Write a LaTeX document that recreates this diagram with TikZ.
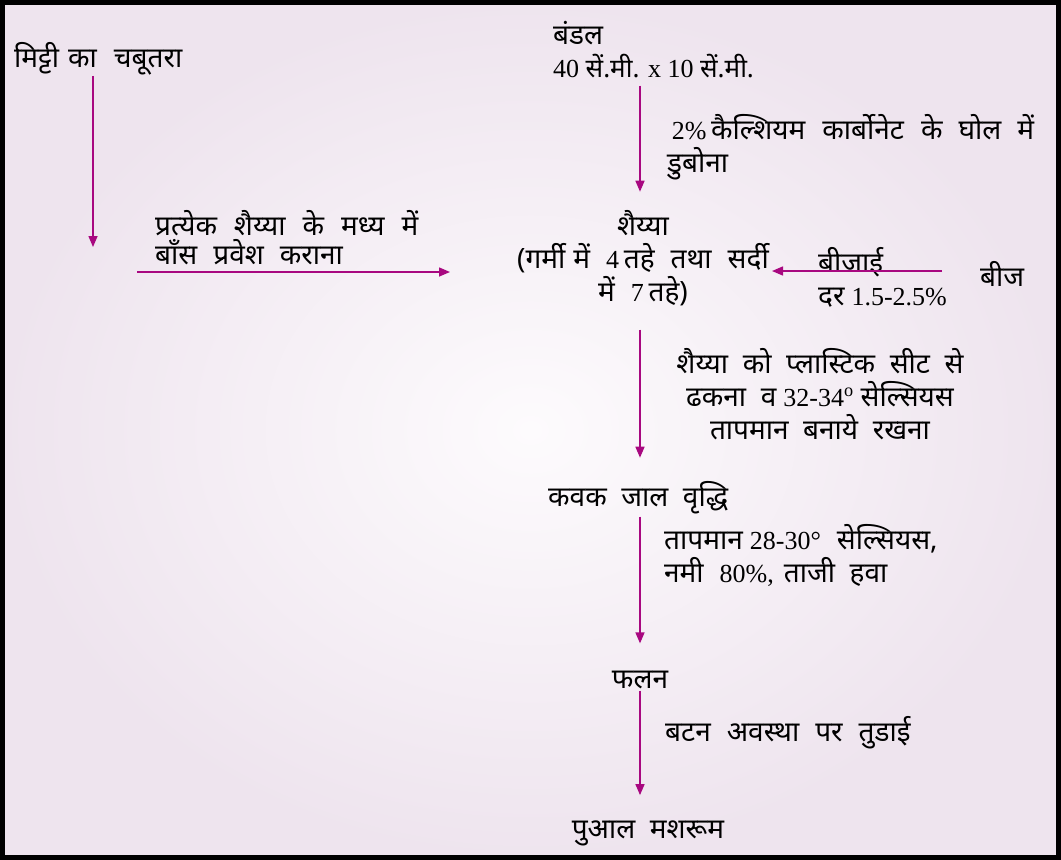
\documentclass[tikz,border=0pt]{standalone}
\usepackage{fontspec}
\setmainfont{Liberation Serif}
\newfontfamily\devfont[Script=Devanagari]{Noto Sans}
\usetikzlibrary{arrows.meta,calc}
\definecolor{arrc}{RGB}{168,8,128}
\definecolor{bgin}{RGB}{253,251,253}
\definecolor{bgout}{RGB}{238,228,238}
\newcommand{\D}[1]{{\devfont #1}}
\newcommand{\N}[1]{{\fontsize{26}{33}\selectfont #1}}
\newcommand{\gap}[1][14pt]{\hspace*{#1}}
\tikzset{
  arr/.style={draw=arrc, line width=1.5pt, -{Triangle[width=9pt,length=11pt]}},
  txt/.style={inner sep=0pt, font=\fontsize{28}{33}\selectfont, text=black},
}
\begin{document}
\begin{tikzpicture}[x=1pt,y=1pt]
\useasboundingbox (0,0) rectangle (1061,-860);
\shade[inner color=bgin, outer color=bgout] (0,0) rectangle (1061,-860);
\draw[line width=5pt] (2.5,-2.5) rectangle (1058.5,-857.5);

% nodes
\node[txt, anchor=base west] (mitti) at (14,-67) {\D{मिट्टी}\gap[9pt]\D{का}\gap[17pt]\D{चबूतरा}};
\node[txt, anchor=base west, align=left] (bundle) at (553,-77) {\D{बंडल}\\\N{40 \D{सें.मी.} x 10 \D{सें.मी.}}};
\node[txt, anchor=base west, align=left] (dip) at (667,-172) {\,\N{2\%}\,\D{कैल्शियम}\gap[17pt]\D{कार्बोनेट}\gap[17pt]\D{के}\gap[16pt]\D{घोल}\gap[16pt]\D{में}\\\D{डुबोना}};
\node[txt, anchor=base west, align=left, font=\fontsize{28}{29}\selectfont] (bamboo) at (155,-264) {\D{प्रत्येक}\gap[17pt]\D{शैय्या}\gap[17pt]\D{के}\gap[17pt]\D{मध्य}\gap[17pt]\D{में}\\\D{बाँस}\gap[16pt]\D{प्रवेश}\gap[16pt]\D{कराना}};
\node[txt, anchor=base, align=center] (shaiyya) at (643,-301) {\D{शैय्या}\\\D{(गर्मी}\gap[8pt]\D{में}\gap[16pt]\N{4}\,\D{तहे}\gap[16pt]\D{तथा}\gap[16pt]\D{सर्दी}\\\D{में}\gap[16pt]\N{7}\,\D{तहे)}};
\node[txt, anchor=base west, align=left] (sow) at (818,-305) {\D{बीजाई}\\\D{दर} \N{1.5-2.5\%}};
\node[txt, anchor=base west] (beej) at (980,-286) {\D{बीज}};
\node[txt, anchor=base, align=center] (cover) at (820,-439) {\D{शैय्या\ \ को\ \ प्लास्टिक\ \ सीट\ \ से}\\\D{ढकना\ \ व} \N{32-34\textsuperscript{o}}\ \D{सेल्सियस}\\\D{तापमान\ \ बनाये\ \ रखना}};
\node[txt, anchor=base west] (kavak) at (548,-506) {\D{कवक\ \ जाल\ \ वृद्धि}};
\node[txt, anchor=base west, align=left] (temp) at (664,-582) {\D{तापमान} \N{28-30°}\gap[16pt]\D{सेल्सियस,}\\\D{नमी}\gap[16pt]\N{80\%,}\gap[10pt]\D{ताजी\ \ हवा}};
\node[txt, anchor=base] (phalan) at (640,-688) {\D{फलन}};
\node[txt, anchor=base west] (harvest) at (665,-741) {\D{बटन}\gap[16pt]\D{अवस्था}\gap[16pt]\D{पर}\gap[16pt]\D{तुडाई}};
\node[txt, anchor=base] (pual) at (648,-838) {\D{पुआल\ \ मशरूम}};

% connectors
\coordinate (mend) at (93,-247);
\draw[arr, shorten <=1pt] (mitti.south -| mend) -- (mend);
\draw[arr, shorten <=8pt, shorten >=18pt] (bundle.south -| 640,0) -- (shaiyya.north -| 640,0);
\coordinate (bstart) at (137,-272);
\coordinate (bend) at (450,-272);
\draw[arr] (bstart) -- (bend);
\coordinate (sowy) at (0,-271);
\coordinate (send) at (772,-271);
\draw[arr, shorten <=38pt] (beej.west |- sowy) -- (send);
\draw[arr, shorten <=24pt, shorten >=23pt] (shaiyya.south -| 640,0) -- (kavak.north -| 640,0);
\draw[arr, shorten <=3pt, shorten >=27pt] (kavak.south -| phalan.north) -- (phalan.north);
\draw[arr, shorten <=2pt, shorten >=25pt] (phalan.south) -- (pual.north -| phalan.south);
\end{tikzpicture}
\end{document}
